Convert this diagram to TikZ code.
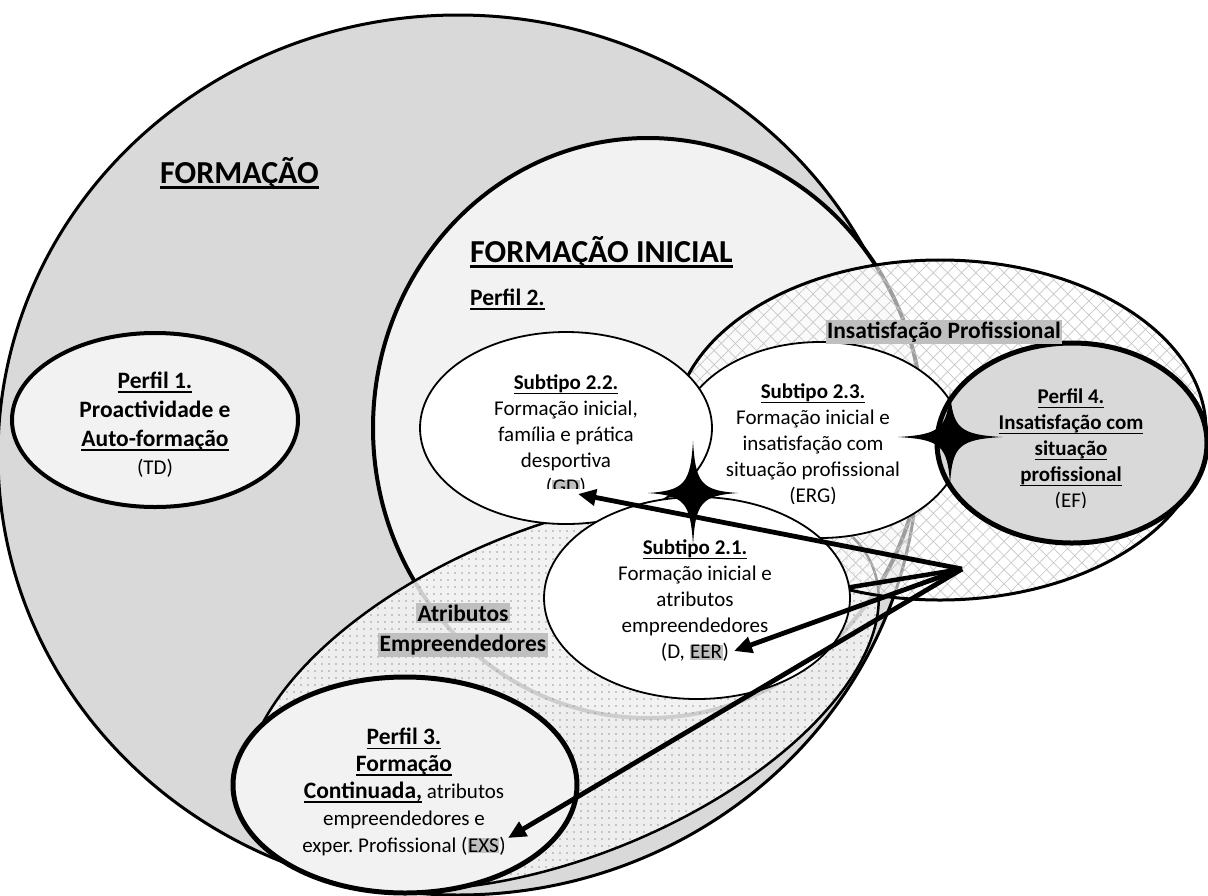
\documentclass[tikz,border=0pt]{standalone}
\usepackage{fontspec}
\setmainfont{Carlito}
\usetikzlibrary{shapes.geometric,arrows.meta,patterns.meta}
\newcommand{\hlt}[1]{{\setlength{\fboxsep}{0.6pt}\colorbox{black!25}{#1}}}
\newcommand{\hltb}[1]{{\setlength{\fboxsep}{1.5pt}\colorbox{black!25}{#1}}}
\newcommand{\ulx}[1]{{\setbox0\hbox{#1}\rlap{\rule[-4.5pt]{\wd0}{1.8pt}}\box0}}
\newcommand{\ulbig}[1]{{\setbox0\hbox{#1}\rlap{\rule[-6pt]{\wd0}{2.6pt}}\box0}}
\tikzset{pics/sparkle/.style 2 args={code={
  \fill[black] (0,-#2) .. controls (2.5,-9) and (9,-2.5) .. (#1,0)
    .. controls (9,2.5) and (2.5,9) .. (0,#2)
    .. controls (-2.5,9) and (-9,2.5) .. (-#1,0)
    .. controls (-9,-2.5) and (-2.5,-9) .. (0,-#2) -- cycle;}}}
\begin{document}
\frenchspacing
\begin{tikzpicture}[x=1pt,y=-1pt,
  ell/.style={ellipse,inner sep=0pt,outer sep=0pt,draw=black},
  subell/.style={ell,line width=1.8pt,fill=white},
  bodytxt/.style={align=center,inner sep=0pt,font=\fontsize{21}{26}\selectfont},
  bigtxt/.style={inner sep=0pt,font=\fontsize{32}{38}\selectfont\bfseries},
  arr/.style={line width=4.8pt,-{Triangle[length=18pt,width=16pt]}},
  hatchfill/.style={preaction={fill=white,fill opacity=.62},
     preaction={pattern={Lines[angle=45,distance=10pt,line width=.7pt]},pattern color=black!22},
     pattern={Lines[angle=-45,distance=10pt,line width=.7pt]},pattern color=black!22},
  dotfill/.style={preaction={fill=black!5,fill opacity=.85},
     pattern={Dots[distance=7pt,radius=0.85pt]},pattern color=black!40}
]
\useasboundingbox (0,0) rectangle (1208,895);
\fill[white] (0,0) rectangle (1208,895);

% big regions
\node[ell,line width=3pt,fill=black!15,minimum width=920pt,minimum height=880pt] (F) at (458,455) {};
\node[ell,line width=4pt,fill=black!5,minimum width=286pt,minimum height=174pt] (P1) at (155,420) {};
\node[ell,line width=4pt,fill=black!5,minimum width=550pt,minimum height=580pt] (FI) at (648,428) {};
\node[ell,line width=2.5pt,dotfill,minimum width=670pt,minimum height=330pt,rotate=22] (AE) at (562,692) {};
\node[ell,line width=3pt,hatchfill,minimum width=532pt,minimum height=340pt] (IP) at (940,430) {};

% sub ellipses
\node[subell,minimum width=284pt,minimum height=196pt] (S23) at (820,440) {};
\node[subell,minimum width=292pt,minimum height=192pt] (S22) at (566,428) {};
\node[subell,minimum width=306pt,minimum height=202pt] (S21) at (697,598) {};
\node[ell,line width=5pt,fill=black!5,minimum width=344pt,minimum height=216pt] (P3) at (405,785) {};
\node[ell,line width=5pt,fill=black!15,minimum width=270pt,minimum height=200pt] (P4) at (1072,443) {};

% stars
\pic at (693,493) {sparkle={45}{52}};
\pic at (950,437) {sparkle={52}{47}};

% connectors
\coordinate (apex) at (962,569);
\coordinate (gd) at (578,494);
\coordinate (eer) at (734,651);
\coordinate (exs) at (508,838);
\draw[line width=4.5pt] (apex) -- (S21.4);
\draw[arr] (apex) -- (gd);
\draw[arr] (apex) -- (eer);
\draw[arr] (apex) -- (exs);

% titles
\node[bigtxt,anchor=base west] (tF) at (160,183) {\ulbig{FORMAÇÃO}};
\node[bigtxt,anchor=base west] (tFI) at (470,262) {\ulbig{FORMAÇÃO INICIAL}};
\node[inner sep=0pt,anchor=base west,font=\fontsize{23.5}{28}\selectfont\bfseries] (tP2) at (470,305) {\ulx{Perfil 2.}};
\node[inner sep=1.5pt,fill=black!25,font=\fontsize{23.5}{28}\selectfont\bfseries] (tIP) at (944,332) {Insatisfação Profissional};

% texts
\node[bodytxt,font=\fontsize{23.5}{28.7}\selectfont] (t1) at (155,425)
  {{\bfseries\ulx{Perfil 1.}}\\{\bfseries Proactividade e}\\{\bfseries\ulx{Auto-formação}}\\{\fontsize{21}{28.7}\selectfont (TD)}};
\begin{scope}
\clip (0,0) rectangle (1208,488);
\node[bodytxt] (t22) at (566,436)
  {{\bfseries\ulx{Subtipo 2.2.}}\\Formação inicial,\\família e prática\\desportiva\\(\hlt{GD})};
\end{scope}
\begin{scope}
\clip (0,0) rectangle (1208,503);
\node[bodytxt] (t23) at (813,445)
  {{\bfseries\ulx{Subtipo 2.3.}}\\Formação inicial e\\insatisfação com\\situação profissional\\(ERG)};
\end{scope}
\begin{scope}
\clip (0,0) rectangle (1208,507);
\node[bodytxt] (t4) at (1071,450)
  {{\bfseries\ulx{Perfil 4.}}\\{\bfseries\ulx{Insatisfação com}}\\{\bfseries\ulx{situação}}\\{\bfseries\ulx{profissional}}\\(EF)};
\end{scope}
\node[bodytxt] (t21) at (695,601)
  {{\bfseries\ulx{Subtipo 2.1.}}\\Formação inicial e\\atributos\\empreendedores\\(D, \hlt{EER})};
\node[bodytxt,font=\fontsize{21}{26.8}\selectfont] (t3) at (404,792)
  {{\fontsize{23.5}{26.8}\selectfont\bfseries\ulx{Perfil 3.}}\\{\fontsize{23.5}{26.8}\selectfont\bfseries\ulx{Formação}}\\{\fontsize{23.5}{26.8}\selectfont\bfseries\ulx{Continuada,}} atributos\\empreendedores e\\exper. Profissional (\hlt{EXS})};
\node[align=center,inner sep=0pt,font=\fontsize{23.5}{30}\selectfont\bfseries] (tAE) at (463,630)
  {\hltb{Atributos}\\\hltb{Empreendedores}};
\end{tikzpicture}
\end{document}
